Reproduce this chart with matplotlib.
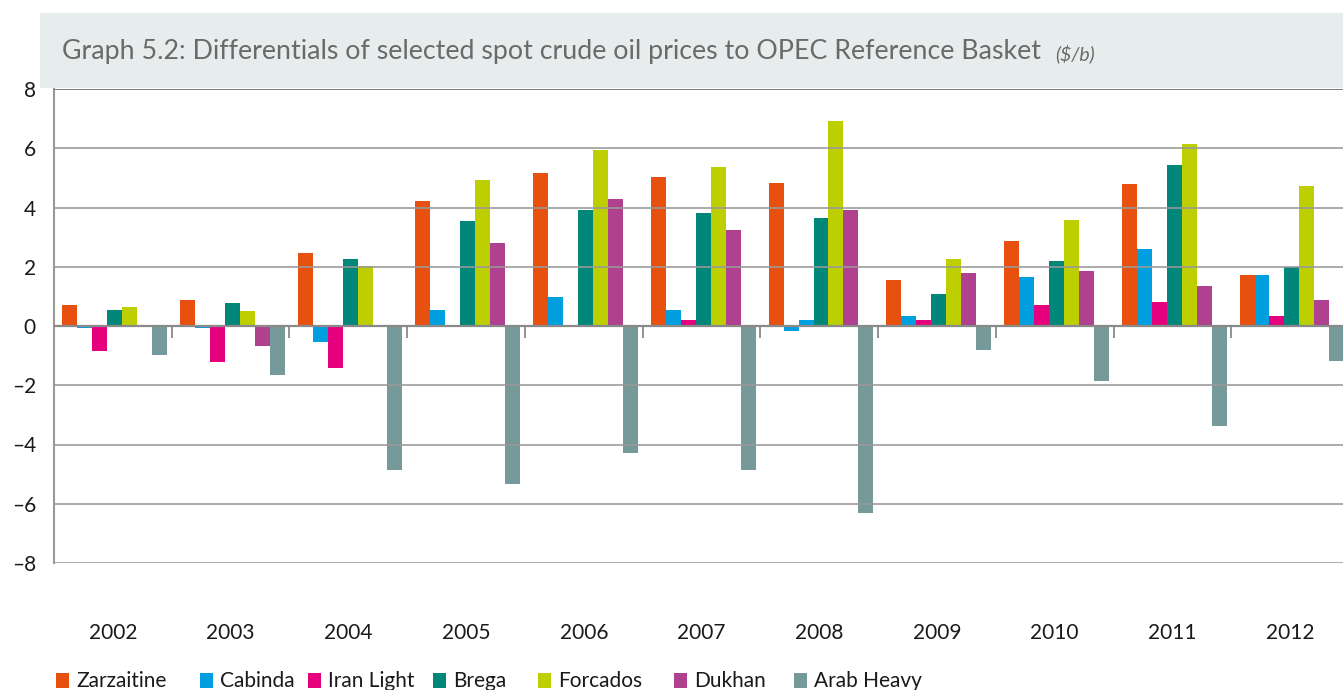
import numpy as np
import matplotlib
matplotlib.use('Agg')
import matplotlib.pyplot as plt
from matplotlib.patches import Rectangle

plt.rcParams['font.family'] = ['Lato', 'DejaVu Sans']

years = ['2002', '2003', '2004', '2005', '2006', '2007', '2008', '2009', '2010', '2011', '2012']

zarzaitine = [0.71, 0.88, 2.47, 4.21, 5.15, 5.02, 4.82, 1.56, 2.87, 4.78, 1.72]
cabinda = [-0.08, -0.08, -0.53, 0.55, 0.98, 0.55, -0.16, 0.35, 1.66, 2.60, 1.72]
iran_light = [-0.85, -1.20, -1.43, 0.0, -0.03, 0.20, 0.21, 0.21, 0.72, 0.82, 0.35]
brega = [0.54, 0.78, 2.26, 3.54, 3.91, 3.81, 3.64, 1.09, 2.19, 5.42, 1.99]
forcados = [0.64, 0.51, 2.02, 4.92, 5.93, 5.36, 6.93, 2.26, 3.57, 6.13, 4.72]
dukhan = [0.0, -0.66, 0.0, 2.80, 4.28, 3.24, 3.91, 1.79, 1.86, 1.35, 0.88]
arab_heavy = [-0.98, -1.67, -4.86, -5.32, -4.29, -4.86, -6.30, -0.80, -1.84, -3.38, -1.17]

series = [
    ('Zarzaitine', zarzaitine, '#e8500f'),
    ('Cabinda', cabinda, '#009fe0'),
    ('Iran Light', iran_light, '#e5007d'),
    ('Brega', brega, '#00877a'),
    ('Forcados', forcados, '#bdcf00'),
    ('Dukhan', dukhan, '#af418f'),
    ('Arab Heavy', arab_heavy, '#769a99'),
]

yticks = [8, 6, 4, 2, 0, -2, -4, -6, -8]

# left edge (px) of each legend key
legend_x = [56, 200, 308, 433, 538, 674, 794]

W, H = 1343, 690
fig = plt.figure(figsize=(W / 100, H / 100), dpi=100)

# title band
fig.patches.append(Rectangle((40 / W, 1 - 88 / H), 1, 75 / H, transform=fig.transFigure,
                             facecolor='#e7eded', edgecolor='none', zorder=0))
fig.text(62 / W, 1 - 52 / H, 'Graph 5.2: Differentials of selected spot crude oil prices to OPEC Reference Basket',
         fontsize=19.3, color='#6a6a6a', va='center', ha='left')
fig.text(1055 / W, 1 - 54 / H, '($/b)', fontsize=14, style='italic', color='#6a6a6a',
         va='center', ha='left')

ax = fig.add_axes([54 / W, 1 - 563 / H, 1295 / W, 474 / H])
x = np.arange(len(years))
bw = 0.127

for k, (name, vals, col) in enumerate(series):
    colors = [col] * len(vals)
    if name == 'Iran Light':
        colors[6] = '#009fe0'
    ax.bar(x + (k - 3) * bw + 0.015, vals, width=bw, color=colors, label=name, zorder=2,
           linewidth=0)

ax.set_xlim(-0.5, 10.5)
ax.set_ylim(-8, 8)

# gridlines on top of bars
for v in yticks:
    if v == 8:
        ax.axhline(v, color='#7a7a7a', lw=1.4, zorder=3)
    elif v == 0:
        ax.axhline(v, color='#8a8a8a', lw=1.6, zorder=3)
    else:
        ax.axhline(v, color='#999999', lw=1.3, alpha=0.9, zorder=3)

ax.vlines(x[:-1] + 0.5, -0.4, 0, color='#8a8a8a', lw=1.3, zorder=3)

for s in ['top', 'right', 'bottom']:
    ax.spines[s].set_visible(False)
ax.spines['left'].set_color('#999999')
ax.spines['left'].set_linewidth(1.5)

ax.set_yticks(yticks)
ax.set_yticklabels([str(v).replace('-', '–') for v in yticks])
ax.tick_params(axis='y', length=0, pad=13, labelsize=15, labelcolor='#1a1a1a')
ax.set_xticks(x)
ax.set_xticklabels(years)
ax.tick_params(axis='x', length=0, pad=43, labelsize=15, labelcolor='#1a1a1a')

# legend keys along the bottom edge
for lx, (name, vals, col) in zip(legend_x, series):
    fig.patches.append(Rectangle((lx / W, 1 - 688 / H), 13 / W, 15 / H,
                                 transform=fig.transFigure, facecolor=col,
                                 edgecolor='none'))
    fig.text((lx + 20) / W, 1 - 681 / H, name, fontsize=15, color='#1a1a1a',
             va='center', ha='left')

fig.savefig('out.png', dpi=100)
